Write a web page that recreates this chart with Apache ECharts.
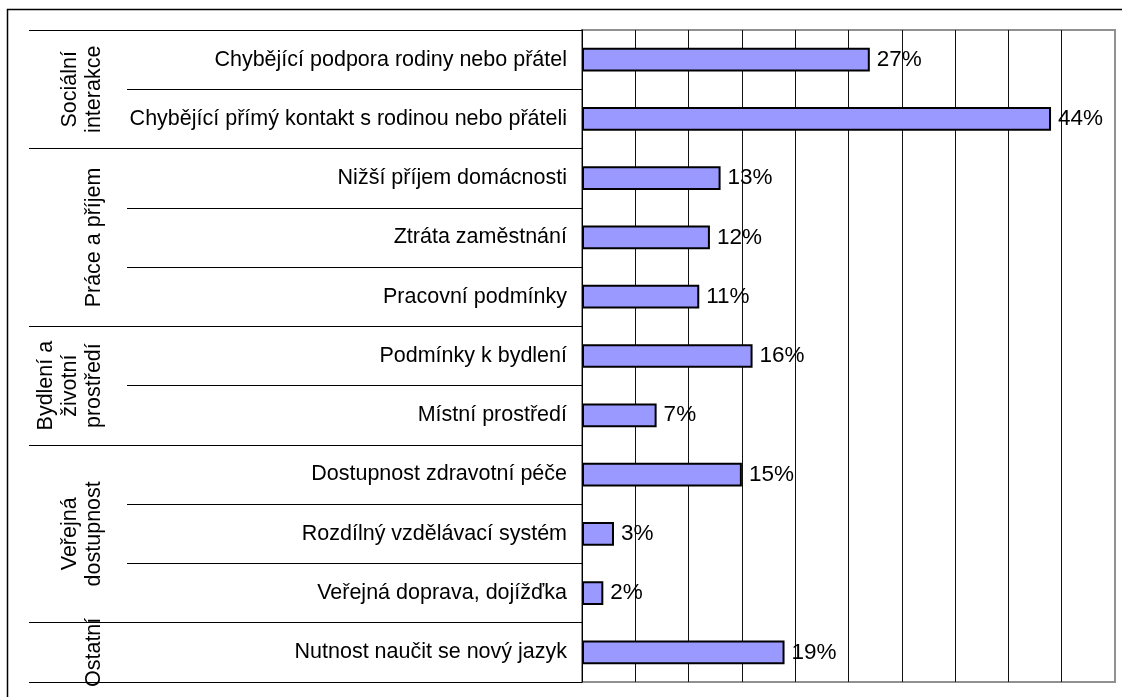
<!DOCTYPE html>
<html>
<head>
<meta charset="utf-8">
<script src="https://cdn.jsdelivr.net/npm/echarts@6/dist/echarts.min.js"></script>
<style>
html, body { margin: 0; padding: 0; background: #fff; }
#chart { width: 1122px; height: 697px; }
</style>
</head>
<body>
<div id="chart"></div>
<script>
// data
var categories = [
    'Chybějící podpora rodiny nebo přátel',
    'Chybějící přímý kontakt s rodinou nebo přáteli',
    'Nižší příjem domácnosti',
    'Ztráta zaměstnání',
    'Pracovní podmínky',
    'Podmínky k bydlení',
    'Místní prostředí',
    'Dostupnost zdravotní péče',
    'Rozdílný vzdělávací systém',
    'Veřejná doprava, dojížďka',
    'Nutnost naučit se nový jazyk'
];
var values = [27, 44, 13, 12, 11, 16, 7, 15, 3, 2, 19];
var groupNames = ['Sociální\ninterakce', 'Práce a příjem', 'Bydlení a\nživotní\nprostředí', 'Veřejná\ndostupnost', 'Ostatní'];
var groupSizes = [2, 3, 2, 3, 1];
var axisMax = 50;
var axisStep = 5;

var font = 'Liberation Sans, Arial, sans-serif';

// index of first category of each group
var groupStarts = [];
var n = 0;
for (var i = 0; i < groupSizes.length; i++) {
    groupStarts.push(n);
    n += groupSizes[i];
}

var chart = echarts.init(document.getElementById('chart'));

var option = {
    animation: false,
    textStyle: { fontFamily: font },
    grid: {
        left: 582,
        right: 7,
        top: 30,
        bottom: 15,
        show: true,
        borderColor: '#909090',
        borderWidth: 2
    },
    xAxis: {
        type: 'value',
        min: 0,
        max: axisMax,
        interval: axisStep,
        axisLine: { show: false },
        axisTick: { show: false },
        axisLabel: { show: false },
        splitLine: {
            show: true,
            showMinLine: false,
            showMaxLine: false,
            lineStyle: { color: '#111', width: 1 }
        }
    },
    yAxis: [
        {
            type: 'category',
            data: categories,
            inverse: true,
            axisLine: { show: true, lineStyle: { color: '#000', width: 1 } },
            axisTick: { show: true, length: 455, lineStyle: { color: '#000', width: 1 } },
            axisLabel: { color: '#000', fontSize: 21.5, margin: 15, fontFamily: font }
        },
        {
            type: 'category',
            data: categories,
            inverse: true,
            position: 'left',
            axisLine: { show: false },
            axisLabel: { show: false },
            axisTick: {
                show: true,
                length: 553,
                interval: function (index) {
                    return groupStarts.indexOf(index) >= 0;
                },
                lineStyle: { color: '#000', width: 1 }
            }
        }
    ],
    series: [{
        type: 'bar',
        data: values,
        barWidth: '40%',
        itemStyle: { color: '#9999ff', borderColor: '#000', borderWidth: 2 },
        label: {
            show: true,
            position: 'right',
            distance: 7,
            formatter: '{c}%',
            color: '#000',
            fontSize: 22.5,
            fontFamily: font
        }
    }]
};

chart.setOption(option);

// group labels on the left, placed from the category axis
var graphics = [{
    type: 'rect',
    shape: { x: 7.5, y: 9.5, width: 1300, height: 900 },
    style: { fill: null, stroke: '#000', lineWidth: 1.5 },
    silent: true
}];
for (var g = 0; g < groupNames.length; g++) {
    var first = categories[groupStarts[g]];
    var last = categories[groupStarts[g] + groupSizes[g] - 1];
    var y0 = chart.convertToPixel({ yAxisIndex: 0 }, first);
    var y1 = chart.convertToPixel({ yAxisIndex: 0 }, last);
    graphics.push({
        type: 'text',
        x: 106,
        y: (y0 + y1) / 2,
        rotation: Math.PI / 2,
        style: {
            text: groupNames[g],
            fill: '#000',
            font: '21.5px ' + font,
            lineHeight: 24,
            align: 'center',
            verticalAlign: 'bottom'
        }
    });
}
chart.setOption({ graphic: graphics });
</script>
</body>
</html>
